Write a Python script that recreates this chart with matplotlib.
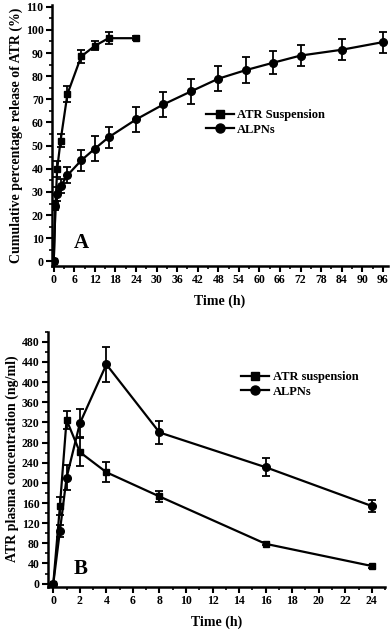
import matplotlib.pyplot as plt
from matplotlib.lines import Line2D
from matplotlib.ticker import MultipleLocator

plt.rcParams['font.family'] = ['Liberation Serif', 'DejaVu Serif']
plt.rcParams['font.weight'] = 'bold'

# panel A: in vitro release
t_a_susp = [0, 0.5, 1, 2, 4, 8, 12, 16, 24]
rel_susp = [0, 24, 39.8, 52.2, 72.3, 88.5, 93.1, 96.4, 96.4]
err_susp = [0, 1.5, 3.5, 3, 3.5, 3, 2, 2.5, 0.8]

t_a_alpn = [0, 0.5, 1, 2, 4, 8, 12, 16, 24, 32, 40, 48, 56, 64, 72, 84, 96]
rel_alpn = [0, 24, 29, 32.5, 37.2, 43.6, 48.7, 53.6, 61.3, 67.8, 73.4, 78.9,
            82.6, 85.8, 88.9, 91.4, 94.7]
err_alpn = [0, 2, 3, 3, 3.5, 4.5, 5.5, 4.5, 5.5, 5.5, 5.5, 5.5,
            5.5, 5, 4.5, 4.5, 4.5]

# panel B: plasma concentration
t_b = [0, 0.5, 1, 2, 4, 8, 16, 24]
conc_susp = [0, 154, 325, 261, 221, 173, 79, 35]
errc_susp = [0, 18, 18, 28, 20, 10, 3, 3]
conc_alpn = [0, 105, 210, 318, 435, 300, 231, 154]
errc_alpn = [0, 12, 25, 28, 35, 23, 18, 12]

fig = plt.figure(figsize=(3.92, 6.35), dpi=100)
ax1 = fig.add_axes([0.1327, 0.581, 0.857, 0.411])
ax2 = fig.add_axes([0.1224, 0.0761, 0.860, 0.4016])

style = dict(color='black', lw=1.6, capsize=3, elinewidth=1.3, capthick=1.3)


def legend_handles(labels):
    return [Line2D([], [], color='black', lw=1.6, marker='s', ms=6, label=labels[0]),
            Line2D([], [], color='black', lw=1.6, marker='o', ms=6.5, label=labels[1])]


ax1.errorbar(t_a_susp, rel_susp, yerr=err_susp, marker='s', ms=5, **style)
ax1.errorbar(t_a_alpn, rel_alpn, yerr=err_alpn, marker='o', ms=5.5, **style)
ax1.set_xlim(-0.5, 97.5)
ax1.set_ylim(-2, 110.7)
ax1.xaxis.set_major_locator(MultipleLocator(6))
ax1.xaxis.set_minor_locator(MultipleLocator(3))
ax1.yaxis.set_major_locator(MultipleLocator(10))
ax1.yaxis.set_minor_locator(MultipleLocator(5))
ax1.set_xlabel('Time (h)', fontsize=10, fontweight='bold', labelpad=6)
ax1.set_ylabel('Cumulative percentage release of ATR (%)', fontsize=10,
               fontweight='bold', labelpad=2)
ax1.text(0.065, 0.07, 'A', transform=ax1.transAxes, fontsize=15,
         fontweight='bold')
ax1.legend(handles=legend_handles(['ATR Suspension', 'ALPNs']),
           loc='upper left', bbox_to_anchor=(0.44, 0.625), frameon=False,
           fontsize=9, handlelength=2.2, handletextpad=0.3, labelspacing=0.2,
           borderpad=0)

ax2.errorbar(t_b, conc_susp, yerr=errc_susp, marker='s', ms=5, **style)
ax2.errorbar(t_b, conc_alpn, yerr=errc_alpn, marker='o', ms=5.5, **style)
ax2.set_xlim(-0.4, 25)
ax2.set_ylim(-6, 500)
ax2.xaxis.set_major_locator(MultipleLocator(2))
ax2.xaxis.set_minor_locator(MultipleLocator(1))
ax2.yaxis.set_major_locator(MultipleLocator(40))
ax2.yaxis.set_minor_locator(MultipleLocator(20))
ax2.set_xlabel('Time (h)', fontsize=10, fontweight='bold', labelpad=6)
ax2.set_ylabel('ATR plasma concentration (ng/ml)', fontsize=10,
               fontweight='bold', labelpad=2)
ax2.text(0.075, 0.05, 'B', transform=ax2.transAxes, fontsize=15,
         fontweight='bold')
ax2.legend(handles=legend_handles(['ATR suspension', 'ALPNs']),
           loc='upper left', bbox_to_anchor=(0.555, 0.87), frameon=False,
           fontsize=9, handlelength=2.2, handletextpad=0.3, labelspacing=0.2,
           borderpad=0)

for ax in (ax1, ax2):
    ax.spines['top'].set_visible(False)
    ax.spines['right'].set_visible(False)
    ax.spines['left'].set_linewidth(1.8)
    ax.spines['bottom'].set_linewidth(1.8)
    ax.tick_params(which='major', direction='out', length=4, width=1.5,
                   labelsize=8.5, pad=2)
    ax.tick_params(which='minor', direction='out', length=2.5, width=1.2)
    for lab in ax.get_xticklabels() + ax.get_yticklabels():
        lab.set_fontweight('bold')

fig.savefig('out.png', dpi=100)
